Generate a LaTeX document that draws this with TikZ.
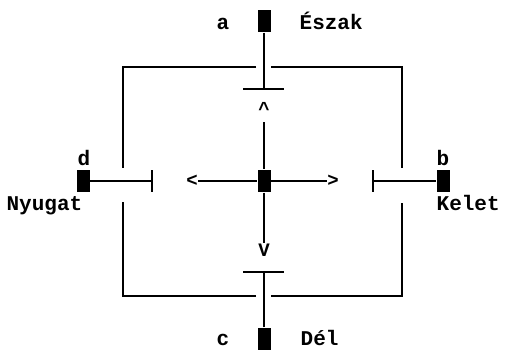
\documentclass[tikz,border=0pt]{standalone}
\usepackage{fontspec}
\setmonofont{Liberation Mono}
\begin{document}
\begin{tikzpicture}[x=1pt,y=-1pt,
  line width=1.3pt,
  blk/.style={fill=black,draw=none,minimum width=13pt,minimum height=22pt,inner sep=0pt},
  lbl/.style={font=\ttfamily\bfseries\fontsize{21}{21}\selectfont,inner sep=0pt},
  tip/.style={font=\ttfamily\bfseries\fontsize{19}{19}\selectfont,inner sep=0pt}]
\useasboundingbox (0,0) rectangle (505,350);
% blocks
\node[blk] (a) at (264,21) {};
\node[blk] (c) at (264,339) {};
\node[blk] (d) at (83,181) {};
\node[blk] (b) at (443,181) {};
\node[blk] (m) at (264,181) {};
% bars
\coordinate (nbL) at (243,89); \coordinate (nbR) at (284,89); \coordinate (nb) at (264,89);
\coordinate (sbL) at (243,272); \coordinate (sbR) at (284,272); \coordinate (sb) at (264,272);
\coordinate (wbT) at (152,170); \coordinate (wbB) at (152,192); \coordinate (wb) at (152,181);
\coordinate (ebT) at (373,170); \coordinate (ebB) at (373,192); \coordinate (eb) at (373,181);
\draw (nbL) -- (nbR); \draw (sbL) -- (sbR);
\draw (wbT) -- (wbB); \draw (ebT) -- (ebB);
\draw (a) -- (nb); \draw (c) -- (sb);
\draw (d) -- (wb); \draw (b) -- (eb);
% outer frame with gaps
\draw (256,67) -- (123,67) -- (123,168);
\draw (271,67) -- (402,67) -- (402,168);
\draw (256,296) -- (123,296) -- (123,202);
\draw (271,296) -- (402,296) -- (402,203);
% inner arrows
\node[tip] (up) at (264,109) {\^{}};
\node[tip] (dn) at (264,250) {V};
\node[tip] (lt) at (192,181) {<};
\node[tip] (rt) at (333,181) {>};
\draw (264,122) -- (m);
\draw (m) -- (dn);
\draw (lt) -- (m);
\draw (m) -- (rt);
% labels
\node[lbl,anchor=base] at (223,30) {a};
\node[lbl,anchor=base west] at (299,30) {Észak};
\node[lbl,anchor=base] at (84,165) {d};
\node[lbl,anchor=base west] at (6,210) {Nyugat};
\node[lbl,anchor=base] at (443,165) {b};
\node[lbl,anchor=base west] at (436,210) {Kelet};
\node[lbl,anchor=base] at (223,345) {c};
\node[lbl,anchor=base west] at (300,345) {Dél};
\end{tikzpicture}
\end{document}
